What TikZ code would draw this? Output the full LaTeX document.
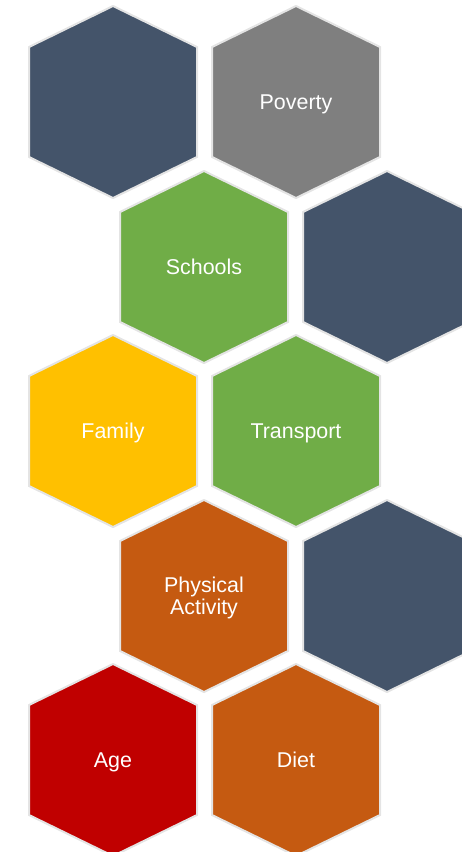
\documentclass[tikz,border=0pt]{standalone}
\usepackage{fontspec}
\setmainfont{Liberation Sans}

\definecolor{slate}{HTML}{44546A}
\definecolor{stone}{HTML}{7F7F7F}
\definecolor{leaf}{HTML}{70AD47}
\definecolor{gold}{HTML}{FFC000}
\definecolor{rust}{HTML}{C55A11}
\definecolor{crimson}{HTML}{C00000}
\definecolor{rim}{HTML}{E4E4E4}

\tikzset{
    hexline/.style={draw=rim, line width=2bp, line join=miter},
    hextext/.style={text=white, align=center, font=\fontsize{21.5}{22.5}\selectfont,
        inner sep=0pt, text depth=0pt}
}

\begin{document}
\begin{tikzpicture}[x=1bp, y=-1bp]

    \useasboundingbox (0,0) rectangle (462,852);
    \clip (0,0) rectangle (462,852);

    % Hexagons, row by row: centre, fill and label
    \foreach \i/\x/\y/\col/\txt in {1/113/102/slate/{}, 2/296/102/stone/Poverty,
        3/204/267/leaf/Schools, 4/387/267/slate/{},
        5/113/431/gold/Family, 6/296/431/leaf/Transport,
        7/204/596/rust/{Physical\\Activity}, 8/387/596/slate/{},
        9/113/760/crimson/Age, 10/296/760/rust/Diet} {
        % Cell outline
        \filldraw[hexline, fill=\col] (\x,\y) ++(0,-96) -- ++(-84,41) -- ++(0,110)
            -- ++(84,41) -- ++(84,-41) -- ++(0,-110) -- cycle;
        % Label in the middle of the cell
        \node[hextext] (H\i) at (\x,\y) {\txt};
    }

\end{tikzpicture}
\end{document}
